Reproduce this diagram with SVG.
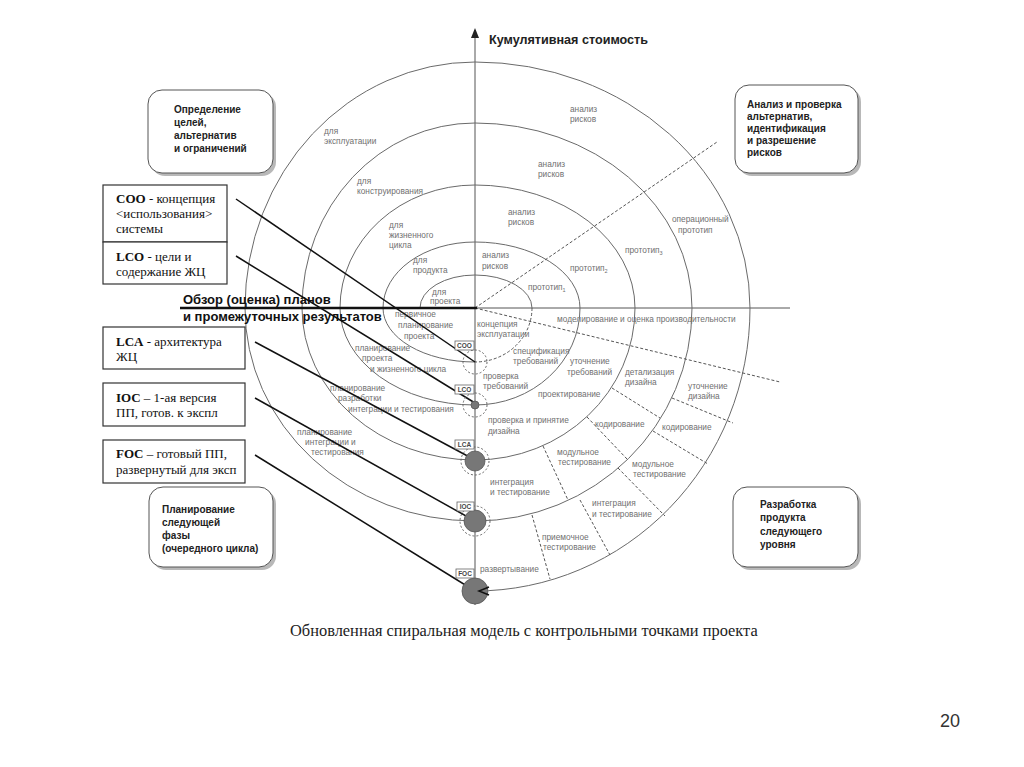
<svg xmlns="http://www.w3.org/2000/svg" width="1024" height="767" viewBox="0 0 1024 767">
<style>
.sp{fill:none;stroke:#6a6a6a;stroke-width:1}
.dsh{fill:none;stroke:#555;stroke-width:1;stroke-dasharray:3,2}
.ax{stroke:#555;stroke-width:1;fill:none}
.lead{stroke:#111;stroke-width:1.5;fill:none}
.sm{font-family:"Liberation Sans",Arial,sans-serif;font-size:8.3px;fill:#707070}
.bx{font-family:"Liberation Sans",Arial,sans-serif;font-size:10px;fill:#222;font-weight:bold}
.rb{fill:#fff;stroke:#555;stroke-width:1}
.sh{fill:#888;opacity:0.6}
.sq{fill:#fff;stroke:#333;stroke-width:1.2}
.tm{font-family:"Liberation Serif","Times New Roman",serif;font-size:13px;fill:#111}
.ms{fill:#fff;stroke:#666;stroke-width:0.8}
.mt{font-family:"Liberation Sans",Arial,sans-serif;font-size:6.5px;font-weight:bold;fill:#444;text-anchor:middle}
.dc{fill:none;stroke:#666;stroke-width:1;stroke-dasharray:2,2}
.pt{fill:#777;stroke:#555;stroke-width:0.8}
</style>
<rect width="1024" height="767" fill="#fff"/>

<g id="axes">
<line class="ax" x1="475" y1="605" x2="475" y2="30"/>
<path d="M471,38 L475,28 L479,38 Z" fill="#222"/>
<line class="ax" x1="475" y1="308" x2="790" y2="308"/>
<text x="489" y="44" font-family="Liberation Sans,Arial,sans-serif" font-size="12.6" font-weight="bold" fill="#222">Кумулятивная стоимость</text>
</g>

<g id="spiral">
<path class="sp" d="M420,308 A55,33 0 0 1 475,275 A57,33 0 0 1 532,308"/>
<path class="dsh" d="M532,308 A57,54 0 0 1 475,362"/>
<path class="sp" d="M475,362 A92,54 0 0 1 383,308 A92,66 0 0 1 475,242 A105,66 0 0 1 580,308 A105,97 0 0 1 475,405 A135,97 0 0 1 340,308 A135,123 0 0 1 475,185 A160,123 0 0 1 635,308 A160,152 0 0 1 475,460 A173,152 0 0 1 302,308 A173,185 0 0 1 475,123 A217,185 0 0 1 692,308 A217,213 0 0 1 475,521 A230,213 0 0 1 245,308 A230,246 0 0 1 475,62 A275,246 0 0 1 750,308 A275,283 0 0 1 475,591"/>
</g>

<g id="dashed-sectors">
<line class="dsh" x1="475" y1="308" x2="717" y2="142"/>
<line class="dsh" x1="475" y1="308" x2="780" y2="382"/>
<line class="dsh" x1="612" y1="388" x2="660" y2="418"/>
<line class="dsh" x1="672" y1="398" x2="733" y2="423"/>
<line class="dsh" x1="587" y1="417" x2="627" y2="459"/>
<line class="dsh" x1="653" y1="431" x2="708" y2="464"/>
<line class="dsh" x1="543" y1="446" x2="568" y2="500"/>
<line class="dsh" x1="618" y1="468" x2="665" y2="516"/>
<line class="dsh" x1="580" y1="500" x2="610" y2="555"/>
<line class="dsh" x1="532" y1="515" x2="550" y2="579"/>
</g>

<g id="spiral-labels">
<text class="sm" x="324" y="134">для</text>
<text class="sm" x="324" y="144">эксплуатации</text>
<text class="sm" x="357" y="184">для</text>
<text class="sm" x="357" y="194">конструирования</text>
<text class="sm" x="389" y="228">для</text>
<text class="sm" x="389" y="238">жизненного</text>
<text class="sm" x="389" y="248">цикла</text>
<text class="sm" x="413" y="263">для</text>
<text class="sm" x="413" y="273">продукта</text>
<text class="sm" x="432" y="295">для</text>
<text class="sm" x="430" y="304">проекта</text>

<text class="sm" x="570" y="112">анализ</text>
<text class="sm" x="570" y="122">рисков</text>
<text class="sm" x="538" y="167">анализ</text>
<text class="sm" x="538" y="177">рисков</text>
<text class="sm" x="508" y="215">анализ</text>
<text class="sm" x="508" y="225">рисков</text>
<text class="sm" x="482" y="258">анализ</text>
<text class="sm" x="482" y="269">рисков</text>
<text class="sm" x="528" y="290">прототип<tspan font-size="5.5" dy="2">1</tspan></text>
<text class="sm" x="570" y="271">прототип<tspan font-size="5.5" dy="2">2</tspan></text>
<text class="sm" x="625" y="253">прототип<tspan font-size="5.5" dy="2">3</tspan></text>
<text class="sm" x="672" y="222">операционный</text>
<text class="sm" x="678" y="233">прототип</text>

<text class="sm" x="557" y="322">моделирование и оценка производительности</text>
<text class="sm" x="477" y="327">концепция</text>
<text class="sm" x="477" y="337">эксплуатации</text>
<text class="sm" x="513" y="354">спецификация</text>
<text class="sm" x="513" y="364">требований</text>
<text class="sm" x="483" y="379">проверка</text>
<text class="sm" x="483" y="389">требований</text>
<text class="sm" x="570" y="364">уточнение</text>
<text class="sm" x="567" y="375">требований</text>
<text class="sm" x="538" y="397">проектирование</text>
<text class="sm" x="625" y="375">детализация</text>
<text class="sm" x="625" y="385">дизайна</text>
<text class="sm" x="688" y="389">уточнение</text>
<text class="sm" x="688" y="399">дизайна</text>
<text class="sm" x="488" y="423">проверка и принятие</text>
<text class="sm" x="488" y="434">дизайна</text>
<text class="sm" x="595" y="427">кодирование</text>
<text class="sm" x="662" y="430">кодирование</text>
<text class="sm" x="557" y="455">модульное</text>
<text class="sm" x="558" y="465">тестирование</text>
<text class="sm" x="632" y="467">модульное</text>
<text class="sm" x="633" y="477">тестирование</text>
<text class="sm" x="490" y="485">интеграция</text>
<text class="sm" x="490" y="495">и тестирование</text>
<text class="sm" x="592" y="506">интеграция</text>
<text class="sm" x="592" y="517">и тестирование</text>
<text class="sm" x="542" y="540">приемочное</text>
<text class="sm" x="543" y="550">тестирование</text>
<text class="sm" x="480" y="572">развертывание</text>

<text class="sm" x="395" y="317">первичное</text>
<text class="sm" x="398" y="328">планирование</text>
<text class="sm" x="404" y="339">проекта</text>
<text class="sm" x="355" y="351">планирование</text>
<text class="sm" x="362" y="361">проекта</text>
<text class="sm" x="370" y="372">и жизненного цикла</text>
<text class="sm" x="330" y="391">планирование</text>
<text class="sm" x="338" y="401">разработки</text>
<text class="sm" x="348" y="412">интеграции и тестирования</text>
<text class="sm" x="297" y="435">планирование</text>
<text class="sm" x="305" y="445">интеграции и</text>
<text class="sm" x="311" y="455">тестирования</text>
</g>

<g id="review">
<line x1="180" y1="308" x2="477" y2="308" stroke="#111" stroke-width="2.5"/>
<text x="183" y="304" font-family="Liberation Sans,Arial,sans-serif" font-size="13" font-weight="bold" fill="#111">Обзор (оценка) планов</text>
<text x="183" y="321" font-family="Liberation Sans,Arial,sans-serif" font-size="13" font-weight="bold" fill="#111">и промежуточных результатов</text>
</g>

<g id="connectors">
<line class="lead" x1="236" y1="199" x2="475" y2="362"/>
<line class="lead" x1="236" y1="256" x2="475" y2="403"/>
<line class="lead" x1="255" y1="342" x2="475" y2="460"/>
<line class="lead" x1="255" y1="398" x2="475" y2="521"/>
<line class="lead" x1="255" y1="455" x2="475" y2="591"/>
</g>

<g id="milestones">
<circle class="dc" cx="475" cy="362" r="12"/>
<circle class="dc" cx="475" cy="405" r="12"/>
<circle class="pt" cx="475" cy="405" r="4"/>
<circle class="dc" cx="475" cy="461" r="14"/>
<circle class="pt" cx="475" cy="461" r="10"/>
<circle class="dc" cx="475" cy="521" r="15"/>
<circle class="pt" cx="475" cy="521" r="11"/>
<circle class="pt" cx="475" cy="591" r="13"/>
<path d="M489,587 L479,591 L489,595" fill="none" stroke="#111" stroke-width="1.5"/>
<g id="m-coo"><rect class="ms" x="455" y="341" width="19" height="9"/><text class="mt" x="464.5" y="348">COO</text></g>
<g id="m-lco"><rect class="ms" x="455" y="385" width="19" height="9"/><text class="mt" x="464.5" y="392">LCO</text></g>
<g id="m-lca"><rect class="ms" x="455" y="440" width="19" height="9"/><text class="mt" x="464.5" y="447">LCA</text></g>
<g id="m-ioc"><rect class="ms" x="457" y="502" width="17" height="9"/><text class="mt" x="465.5" y="509">IOC</text></g>
<g id="m-foc"><rect class="ms" x="456" y="569" width="18" height="9"/><text class="mt" x="465" y="576">FOC</text></g>
</g>

<g id="box-objectives">
<rect class="sh" x="151" y="93" width="125" height="83" rx="14"/>
<rect class="rb" x="148" y="90" width="125" height="83" rx="14"/>
<text class="bx" x="174" y="113">Определение</text>
<text class="bx" x="174" y="126">целей,</text>
<text class="bx" x="174" y="139">альтернатив</text>
<text class="bx" x="174" y="152">и ограничений</text>
</g>

<g id="box-risks">
<rect class="sh" x="738" y="88" width="123" height="88" rx="14"/>
<rect class="rb" x="735" y="85" width="123" height="88" rx="14"/>
<text class="bx" x="747" y="108">Анализ и проверка</text>
<text class="bx" x="747" y="120">альтернатив,</text>
<text class="bx" x="747" y="132">идентификация</text>
<text class="bx" x="747" y="144">и разрешение</text>
<text class="bx" x="747" y="156">рисков</text>
</g>

<g id="box-plan">
<rect class="sh" x="152" y="490" width="124" height="80" rx="14"/>
<rect class="rb" x="149" y="487" width="124" height="80" rx="14"/>
<text class="bx" x="162" y="513">Планирование</text>
<text class="bx" x="162" y="526">следующей</text>
<text class="bx" x="162" y="539">фазы</text>
<text class="bx" x="162" y="552">(очередного цикла)</text>
</g>

<g id="box-develop">
<rect class="sh" x="736" y="490" width="125" height="80" rx="14"/>
<rect class="rb" x="733" y="487" width="125" height="80" rx="14"/>
<text class="bx" x="760" y="508">Разработка</text>
<text class="bx" x="760" y="521">продукта</text>
<text class="bx" x="760" y="535">следующего</text>
<text class="bx" x="760" y="548">уровня</text>
</g>

<g id="box-coo">
<rect class="sq" x="103" y="185" width="124" height="57"/>
<text class="tm" x="116" y="203" font-size="12.5"><tspan font-weight="bold">COO</tspan> - концепция</text>
<text class="tm" x="116" y="218" font-size="11">&lt;использования&gt;</text>
<text class="tm" x="116" y="233" font-size="12.5">системы</text>
</g>
<g id="box-lco">
<rect class="sq" x="103" y="242" width="124" height="42"/>
<text class="tm" x="116" y="261"><tspan font-weight="bold">LCO</tspan> - цели и</text>
<text class="tm" x="116" y="276">содержание ЖЦ</text>
</g>
<g id="box-lca">
<rect class="sq" x="103" y="327" width="142" height="42"/>
<text class="tm" x="116" y="346"><tspan font-weight="bold">LCA</tspan> - архитектура</text>
<text class="tm" x="116" y="361">ЖЦ</text>
</g>
<g id="box-ioc">
<rect class="sq" x="103" y="383" width="142" height="43"/>
<text class="tm" x="116" y="402"><tspan font-weight="bold">IOC</tspan> – 1-ая версия</text>
<text class="tm" x="116" y="417">ПП, готов. к экспл</text>
</g>
<g id="box-foc">
<rect class="sq" x="103" y="440" width="142" height="43"/>
<text class="tm" x="116" y="458"><tspan font-weight="bold">FOC</tspan> – готовый ПП,</text>
<text class="tm" x="116" y="474">развернутый для эксп</text>
</g>

<text x="290" y="636" font-family="Liberation Serif,Times New Roman,serif" font-size="16.4" fill="#222">Обновленная спиральная модель с контрольными точками проекта</text>
<text x="940" y="727" font-family="Liberation Sans,Arial,sans-serif" font-size="18" fill="#333">20</text>
</svg>
